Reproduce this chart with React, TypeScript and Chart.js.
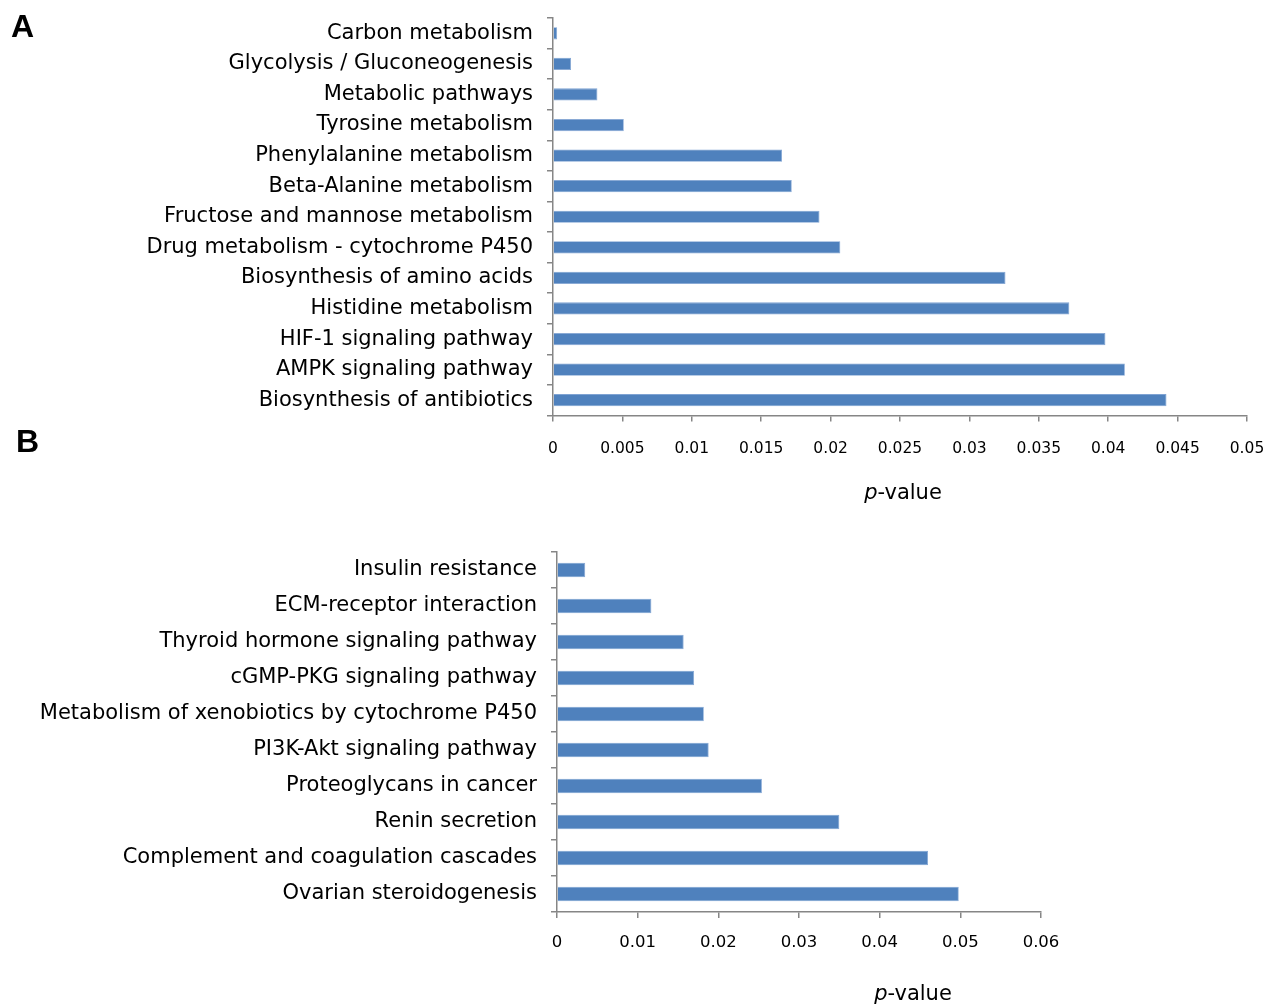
import React, { useEffect, useRef } from "react";
import { Chart, registerables } from "chart.js";

Chart.register(...registerables);

const categoriesA = [
  "Carbon metabolism",
  "Glycolysis / Gluconeogenesis",
  "Metabolic pathways",
  "Tyrosine metabolism",
  "Phenylalanine metabolism",
  "Beta-Alanine metabolism",
  "Fructose and mannose metabolism",
  "Drug metabolism - cytochrome P450",
  "Biosynthesis of amino acids",
  "Histidine metabolism",
  "HIF-1 signaling pathway",
  "AMPK signaling pathway",
  "Biosynthesis of antibiotics",
];
const valuesA = [
  0.0003, 0.0013, 0.0032, 0.0051, 0.0165, 0.0172, 0.0192, 0.0207, 0.0326,
  0.0372, 0.0398, 0.0412, 0.0442,
];
const categoriesB = [
  "Insulin resistance",
  "ECM-receptor interaction",
  "Thyroid hormone signaling pathway",
  "cGMP-PKG signaling pathway",
  "Metabolism of xenobiotics by cytochrome P450",
  "PI3K-Akt signaling pathway",
  "Proteoglycans in cancer",
  "Renin secretion",
  "Complement and coagulation cascades",
  "Ovarian steroidogenesis",
];
const valuesB = [
  0.0035, 0.0117, 0.0157, 0.017, 0.0182, 0.0188, 0.0254, 0.035, 0.046, 0.0498,
];
const axisA = { min: 0, max: 0.05, step: 0.005 };
const axisB = { min: 0, max: 0.06, step: 0.01 };
const titleText = ["p", "-value"];

const BAR = "#4F81BD";
const AXIS = "#868686";
const FONT = "'DejaVu Sans', sans-serif";
const LETTER_FONT = "'Liberation Sans', Arial, sans-serif";

type PanelCfg = {
  labels: string[];
  values: number[];
  axis: { min: number; max: number; step: number };
  width: number;
  height: number;
  left: number;
  padTop: number;
  padRight: number;
  xAxisHeight: number;
  letter: string;
  letterX: number;
  letterY: number;
  titleX: number;
  titleY: number;
  tickPad: number;
  tickSize: number;
};

const extrasPlugin = {
  id: "extras",
  afterDraw(chart: any, _args: any, opts: any) {
    const ctx = chart.ctx;
    ctx.save();
    ctx.fillStyle = "#000";
    ctx.textBaseline = "alphabetic";
    ctx.textAlign = "left";
    ctx.font = `bold 32px ${LETTER_FONT}`;
    ctx.fillText(opts.letter, opts.letterX, opts.letterY);
    ctx.font = `italic 21px ${FONT}`;
    const w1 = ctx.measureText(titleText[0]).width;
    ctx.font = `21px ${FONT}`;
    const w2 = ctx.measureText(titleText[1]).width;
    const x0 = opts.titleX - (w1 + w2) / 2;
    ctx.font = `italic 21px ${FONT}`;
    ctx.fillText(titleText[0], x0, opts.titleY);
    ctx.font = `21px ${FONT}`;
    ctx.fillText(titleText[1], x0 + w1, opts.titleY);
    ctx.restore();
  },
};

function Panel({ cfg, top }: { cfg: PanelCfg; top: number }) {
  const ref = useRef<HTMLCanvasElement>(null);
  useEffect(() => {
    if (!ref.current) return;
    const chart = new Chart(ref.current, {
      type: "bar",
      data: {
        labels: cfg.labels,
        datasets: [
          {
            data: cfg.values,
            backgroundColor: BAR,
            borderColor: "#7FA3D3",
            borderWidth: 0.8,
            barPercentage: 0.4,
            categoryPercentage: 1,
          },
        ],
      },
      options: {
        indexAxis: "y",
        responsive: false,
        animation: false,
        layout: { padding: { top: cfg.padTop, right: cfg.padRight, left: 0, bottom: 0 } },
        plugins: {
          legend: { display: false },
          tooltip: { enabled: false },
          extras: {
            letter: cfg.letter,
            letterX: cfg.letterX,
            letterY: cfg.letterY,
            titleX: cfg.titleX,
            titleY: cfg.titleY,
          },
        } as any,
        scales: {
          y: {
            afterFit: (s: any) => {
              s.width = cfg.left;
              s.paddingTop = 0;
              s.paddingBottom = 0;
            },
            grid: {
              drawOnChartArea: false,
              drawTicks: true,
              tickLength: 6,
              color: AXIS,
              lineWidth: 1.5,
              offset: true,
            },
            border: { color: AXIS, width: 1.5 },
            ticks: {
              color: "#000",
              padding: 14,
              font: { family: FONT, size: 21 },
              autoSkip: false,
            },
          },
          x: {
            min: cfg.axis.min,
            max: cfg.axis.max,
            afterFit: (s: any) => {
              s.height = cfg.xAxisHeight;
              s.paddingLeft = 0;
              s.paddingRight = 0;
            },
            grid: {
              drawOnChartArea: false,
              drawTicks: true,
              tickLength: 6,
              color: AXIS,
              lineWidth: 1.5,
            },
            border: { color: AXIS, width: 1.5 },
            ticks: {
              stepSize: cfg.axis.step,
              color: "#000",
              padding: cfg.tickPad,
              font: { family: FONT, size: cfg.tickSize },
              maxRotation: 0,
              autoSkip: false,
              callback: (v: any) => String(Number(Number(v).toFixed(4))),
            },
          },
        },
      },
      plugins: [extrasPlugin],
    } as any);
    return () => chart.destroy();
  }, [cfg]);
  return (
    <canvas
      ref={ref}
      width={cfg.width}
      height={cfg.height}
      style={{ position: "absolute", left: 0, top, width: cfg.width, height: cfg.height }}
    />
  );
}

const cfgA: PanelCfg = {
  labels: categoriesA,
  values: valuesA,
  axis: axisA,
  width: 1267,
  height: 510,
  left: 553,
  padTop: 18,
  padRight: 20,
  xAxisHeight: 94.5,
  letter: "A",
  letterX: 11,
  letterY: 37,
  titleX: 903,
  titleY: 499,
  tickPad: 18,
  tickSize: 15.5,
};

const cfgB: PanelCfg = {
  labels: categoriesB,
  values: valuesB,
  axis: axisB,
  width: 1267,
  height: 587,
  left: 557,
  padTop: 132,
  padRight: 226,
  xAxisHeight: 95,
  letter: "B",
  letterX: 16,
  letterY: 32,
  titleX: 913,
  titleY: 580,
  tickPad: 15,
  tickSize: 16.5,
};

export default function App() {
  return (
    <div style={{ position: "absolute", left: 0, top: 0, width: 1267, height: 1007, background: "#fff" }}>
      <Panel cfg={cfgA} top={0} />
      <Panel cfg={cfgB} top={420} />
    </div>
  );
}
